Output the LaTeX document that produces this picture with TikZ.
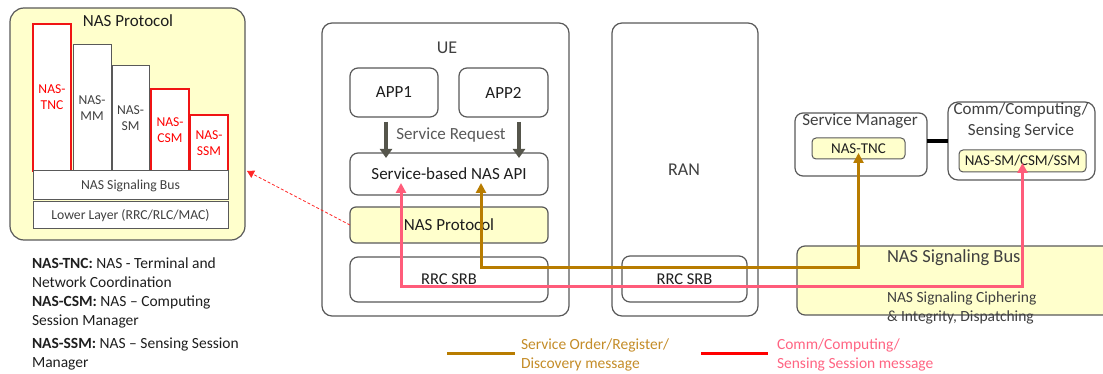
\documentclass[tikz,border=0pt]{standalone}
\usepackage{fontspec}
\setmainfont{Carlito}
\usetikzlibrary{arrows.meta}
\definecolor{yel}{RGB}{255,255,204}
\definecolor{bord}{RGB}{89,89,89}
\definecolor{txt}{RGB}{64,64,64}
\definecolor{dark}{RGB}{30,30,30}
\definecolor{gold}{RGB}{184,124,0}
\definecolor{pinkc}{RGB}{255,92,122}
\definecolor{goldtxt}{RGB}{196,140,40}
\definecolor{pinktxt}{RGB}{255,100,130}
\definecolor{arrgray}{RGB}{85,85,75}
\definecolor{redb}{RGB}{240,20,20}
\begin{document}
\begin{tikzpicture}[x=1pt,y=-1pt,
  every node/.style={inner sep=0pt, outer sep=0pt},
  sz/.style 2 args={minimum width=#1pt, minimum height=#2pt},
  frame/.style={draw=bord, line width=1.2pt, fill=white},
  redbar/.style={draw=redb, line width=1.6pt, fill=white, text=red, align=center, font=\fontsize{13.6}{16}\selectfont},
  graybar/.style={draw=bord, line width=1pt, fill=white, text=txt, align=center, font=\fontsize{13.6}{16}\selectfont},
  layerbox/.style={draw=bord, line width=1pt, fill=white, text=txt, font=\fontsize{13.7}{16}\selectfont},
  big/.style={font=\fontsize{17}{20}\selectfont, text=txt},
  inner/.style={draw=bord, line width=1pt, fill=yel, rounded corners=4pt, text=dark, font=\fontsize{15}{18}\selectfont},
  sreq/.style={draw=arrgray, line width=4pt, -{Triangle[width=12pt,length=9pt]}},
  goldarr/.style={draw=gold, line width=3pt, {Triangle[width=10pt,length=10pt]}-{Triangle[width=10pt,length=10pt]}},
  pinkarr/.style={draw=pinkc, line width=3pt, {Triangle[width=10pt,length=10pt]}-{Triangle[width=10pt,length=10pt]}},
  legtext/.style={anchor=west, align=left, font=\fontsize{15.5}{19}\selectfont, text=dark}
]
\useasboundingbox (0,0) rectangle (1103,374);
\clip (0,0) rectangle (1103,374);

% ---------- left NAS protocol panel ----------
\node[frame, fill=yel, rounded corners=14pt, sz={235}{232}] (nasbig) at (127.5,124) {};
\node[font=\fontsize{17}{20}\selectfont, text=dark] (nastitle) at (128,21) {NAS Protocol};
\node[redbar, sz={38}{147}] (tnc) at (52,97.5) {NAS-\\TNC};
\node[graybar, sz={38}{126}] (mm) at (92,108) {NAS-\\MM};
\node[graybar, sz={37}{105}] (sm) at (130.5,118.5) {NAS-\\SM};
\node[redbar, sz={38}{82}] (csm) at (170,130) {NAS-\\CSM};
\node[redbar, sz={38}{56}] (ssm) at (209,143) {NAS-\\SSM};
\node[layerbox, sz={195}{29}] (lbus) at (130.5,185.5) {NAS Signaling Bus};
\node[layerbox, sz={195}{27}] (lower) at (130.5,215.5) {Lower Layer (RRC/RLC/MAC)};

% ---------- legend text ----------
\node[legtext] (leg1) at (32,272.5) {\textbf{NAS-TNC:} NAS - Terminal and\\Network Coordination};
\node[legtext] (leg2) at (32,311.5) {\textbf{NAS-CSM:} NAS -- Computing\\Session Manager};
\node[legtext] (leg3) at (32,354) {\textbf{NAS-SSM:} NAS -- Sensing Session\\Manager};

% ---------- UE ----------
\node[frame, rounded corners=10pt, sz={247}{293}] (ue) at (445.5,169.5) {};
\node[font=\fontsize{18}{20}\selectfont, text=txt] (uetitle) at (447,48) {UE};
\node[frame, rounded corners=8pt, sz={88}{49}, font=\fontsize{17}{20}\selectfont, text=dark] (app1) at (394,92.5) {APP1};
\node[frame, rounded corners=8pt, sz={89}{49}, font=\fontsize{17}{20}\selectfont, text=dark] (app2) at (503.5,92.5) {APP2};
\node[font=\fontsize{17}{20}\selectfont, text=bord] (sreqtxt) at (451,135) {Service Request};
\node[frame, rounded corners=8pt, sz={198}{42}, font=\fontsize{17}{20}\selectfont, text=dark] (api) at (449,174) {Service-based NAS API};
\node[frame, fill=yel, rounded corners=6pt, sz={198}{36}, font=\fontsize{17}{20}\selectfont, text=dark] (nasp) at (449,225) {NAS Protocol};
\node[frame, rounded corners=8pt, sz={198}{45}, font=\fontsize{16.5}{20}\selectfont, text=dark] (uesrb) at (449,279.5) {RRC SRB};

% ---------- RAN ----------
\node[frame, rounded corners=10pt, sz={146}{293}] (ran) at (685,169.5) {};
\node[font=\fontsize{18}{20}\selectfont, text=txt] (rantitle) at (684,170) {RAN};
\node[frame, rounded corners=8pt, sz={125}{46}, font=\fontsize{16.5}{20}\selectfont, text=dark] (ransrb) at (684.5,279) {RRC SRB};

% ---------- Service manager / Service ----------
\node[frame, rounded corners=8pt, sz={132}{63}] (smgr) at (861,144.5) {};
\node[big] (smgrtitle) at (860,121) {Service Manager};
\node[inner, sz={93}{21}] (tncs) at (858.5,148.5) {NAS-TNC};
\node[frame, rounded corners=10pt, sz={147}{78}] (comm) at (1021.5,141) {};
\node[big, align=center, font=\fontsize{17}{20.5}\selectfont] (commtitle) at (1021,120.5) {Comm/Computing/\\Sensing Service};
\node[inner, sz={127}{22}] (cs) at (1022.5,161) {NAS-SM/CSM/SSM};
\draw[black, line width=3.5pt] ([yshift=3.5pt]smgr.east) -- ([yshift=3.5pt]smgr.east -| comm.west);

% ---------- right NAS signaling bus ----------
\node[frame, fill=yel, rounded corners=8pt, sz={328}{69}] (rbus) at (961,280.5) {};
\node[anchor=west, font=\fontsize{18.5}{22}\selectfont, text=txt] (rbustitle) at (887,258) {NAS Signaling Bus};
\node[anchor=west, align=left, font=\fontsize{15.5}{19}\selectfont, text=txt] (rbussub) at (887,307.5) {NAS Signaling Ciphering\\\& Integrity, Dispatching};

% ---------- arrows ----------
\draw[sreq] ([xshift=-8pt,yshift=-5pt]app1.south) -- ([xshift=-8pt,yshift=-5pt]app1.south |- api.north);
\draw[sreq] ([xshift=15.5pt,yshift=-5pt]app2.south) -- ([xshift=15.5pt,yshift=-5pt]app2.south |- api.north);

\coordinate (gA) at (481,267);
\coordinate (gB) at (858.5,267);
\draw[goldarr, line join=miter] ([xshift=32pt,yshift=12pt]api.south) -- (gA) -- (gB) -- ([yshift=6pt]tncs.south);

\coordinate (pA) at (401,286);
\coordinate (pB) at (1022.5,286);
\draw[pinkarr, line join=miter] ([xshift=-48pt,yshift=12pt]api.south) -- (pA) -- (pB) -- ([yshift=9pt]cs.south);

\coordinate (dtip) at (247,171);
\draw[red!85, line width=0.8pt, dash pattern=on 3pt off 2pt, -{Triangle[width=8pt,length=7pt]}] (nasp.west) -- (dtip);

% ---------- bottom legend ----------
\coordinate (lg1a) at (447,353);
\coordinate (lg1b) at (515,353);
\draw[gold, line width=3pt] (lg1a) -- (lg1b);
\node[anchor=west, align=left, font=\fontsize{15.5}{19}\selectfont, text=goldtxt] (lg1t) at (521,354.5) {Service Order/Register/\\Discovery message};
\coordinate (lg2a) at (701,353);
\coordinate (lg2b) at (768,353);
\draw[red, line width=3pt] (lg2a) -- (lg2b);
\node[anchor=west, align=left, font=\fontsize{15.5}{19}\selectfont, text=pinktxt] (lg2t) at (777,354.5) {Comm/Computing/\\Sensing Session message};
\end{tikzpicture}
\end{document}
